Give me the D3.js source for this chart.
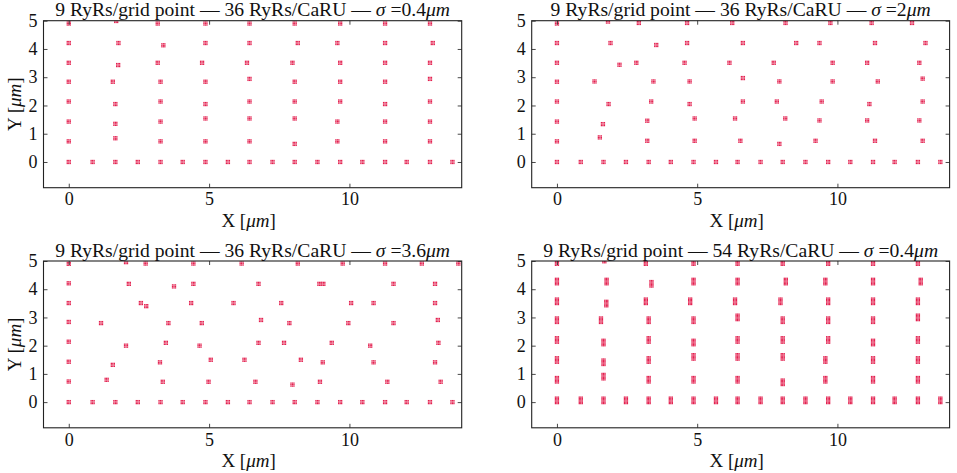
<!DOCTYPE html>
<html><head><meta charset="utf-8">
<script src="https://cdn.jsdelivr.net/npm/d3@7"></script>
<style>
html,body{margin:0;padding:0;background:#fff;}
</style></head><body>
<svg id="chart" width="957" height="473"></svg>
<script>
// ---------------- data ----------------
const xTicks = [0, 5, 10];
const yTicks = [0, 1, 2, 3, 4, 5];
const xDomain = [-0.9, 14.0];
const yDomain = [-0.91, 5];

const panelTitles = ["0.4", "2", "3.6", "0.4"];
const ryrsPerCaRU = ["36", "36", "36", "54"];

// fixed bottom row (y = 0) and fixed left column (x = 0)
const bottomRowX = [0, 0.85, 1.66, 2.46, 3.27, 4.06, 4.87, 5.67, 6.44, 7.26, 8.05, 8.86, 9.67, 10.46, 11.27, 12.04, 12.87, 13.67];
const leftColumnY = [0.73, 1.43, 2.14, 2.84, 3.51, 4.21, 4.90];

// jittered CaRU positions [x, y] per panel
const panel1Points = [
  [1.69,4.99],[1.77,4.21],[1.76,3.43],[1.57,2.84],[1.66,2.05],[1.66,1.35],[1.66,0.84],
  [3.17,4.90],[3.37,4.13],[3.17,3.51],[3.27,2.84],[3.27,2.14],[3.27,1.43],[3.27,0.73],
  [4.87,4.90],[4.87,4.21],[4.75,3.51],[4.87,2.84],[4.87,2.05],[4.87,1.54],[4.87,0.73],
  [6.44,4.90],[6.44,4.21],[6.35,3.51],[6.44,2.94],[6.44,2.14],[6.44,1.54],[6.44,0.73],
  [8.05,4.90],[8.16,4.21],[7.97,3.51],[8.05,2.84],[8.05,2.14],[8.05,1.54],[8.05,0.64],
  [9.67,4.90],[9.57,4.21],[9.67,3.51],[9.67,2.84],[9.67,2.14],[9.57,1.43],[9.57,0.73],
  [11.27,4.90],[11.27,4.21],[11.27,3.51],[11.27,2.84],[11.27,2.05],[11.27,1.43],[11.27,0.73],
  [12.87,4.90],[12.97,4.21],[12.87,3.51],[12.87,2.94],[12.87,2.14],[12.87,1.43],[12.87,0.73]
];
const panel2Points = [
  [1.82,4.97],[2.92,4.92],[4.64,4.92],[6.25,4.92],[8.15,4.92],[9.75,4.92],[11.22,4.92],[12.66,4.92],
  [1.91,4.21],[3.54,4.14],[4.64,4.21],[6.63,4.21],[8.53,4.21],[9.36,4.21],[11.34,4.21],[13.14,4.21],
  [2.23,3.44],[2.83,3.51],[4.55,3.51],[6.15,3.51],[7.73,3.51],[9.83,3.51],[11.06,3.51],[12.92,3.51],
  [1.34,2.85],[3.44,2.85],[4.73,2.85],[6.63,2.97],[7.93,2.85],[9.83,2.85],[11.44,2.85],[13.04,2.95],
  [1.84,2.05],[3.36,2.14],[4.73,2.05],[6.63,2.14],[7.84,2.14],[9.44,2.14],[11.14,2.05],[13.04,2.14],
  [1.64,1.34],[3.22,1.46],[4.91,1.54],[6.35,1.54],[8.14,1.54],[9.36,1.47],[11.06,1.47],[12.92,1.47],
  [1.53,0.87],[3.22,0.75],[4.91,0.75],[6.54,0.75],[7.93,0.64],[9.22,0.75],[11.34,0.75],[13.04,0.75]
];
const panel3Points = [
  [2.04,4.96],[2.74,4.91],[4.44,4.91],[6.16,4.91],[8.16,4.91],[9.76,4.91],[11.27,4.91],[12.58,4.91],[13.88,4.91],
  [2.14,4.19],[3.75,4.10],[4.44,4.19],[6.76,4.19],[8.93,4.19],[9.07,4.19],[11.57,4.19],[13.05,4.19],
  [2.57,3.51],[2.76,3.40],[4.36,3.51],[5.87,3.51],[7.57,3.51],[10.06,3.51],[10.86,3.51],[13.05,3.51],
  [1.15,2.80],[3.55,2.80],[4.74,2.80],[6.85,2.91],[7.86,2.80],[9.96,2.80],[11.57,2.80],[13.15,2.91],
  [2.04,2.00],[3.46,2.10],[4.66,2.00],[6.76,2.10],[7.67,2.10],[9.37,2.10],[10.74,2.00],[13.17,2.10],
  [1.57,1.32],[3.25,1.41],[5.06,1.50],[6.26,1.50],[8.27,1.50],[9.05,1.41],[10.86,1.41],[13.05,1.41],
  [1.35,0.79],[3.35,0.72],[4.98,0.72],[6.65,0.72],[7.97,0.62],[8.95,0.72],[11.35,0.72],[13.25,0.72]
];
const panel4Points = [
  [1.69,4.99],[1.77,4.21],[1.76,3.43],[1.57,2.84],[1.66,2.05],[1.66,1.35],[1.66,0.84],
  [3.17,4.90],[3.37,4.13],[3.17,3.51],[3.27,2.84],[3.27,2.14],[3.27,1.43],[3.27,0.73],
  [4.87,4.90],[4.87,4.21],[4.75,3.51],[4.87,2.84],[4.87,2.05],[4.87,1.54],[4.87,0.73],
  [6.44,4.90],[6.44,4.21],[6.35,3.51],[6.44,2.94],[6.44,2.14],[6.44,1.54],[6.44,0.73],
  [8.05,4.90],[8.16,4.21],[7.97,3.51],[8.05,2.84],[8.05,2.14],[8.05,1.54],[8.05,0.64],
  [9.67,4.90],[9.57,4.21],[9.67,3.51],[9.67,2.84],[9.67,2.14],[9.57,1.43],[9.57,0.73],
  [11.27,4.90],[11.27,4.21],[11.27,3.51],[11.27,2.84],[11.27,2.05],[11.27,1.43],[11.27,0.73],
  [12.87,4.90],[12.97,4.21],[12.87,3.51],[12.87,2.94],[12.87,2.14],[12.87,1.43],[12.87,0.73]
];

// ---------------- drawing ----------------
const FONT = "'Liberation Serif', 'DejaVu Serif', serif";
const svg = d3.select("#chart");
const panels = [
  {L:43.5, R:461.7, T:20.7, B:187.7, pts:panel1Points, tall:false, ylab:true},
  {L:531.7,R:949.6, T:20.7, B:187.7, pts:panel2Points, tall:false, ylab:false},
  {L:43.5, R:461.7, T:261,  B:427.8, pts:panel3Points, tall:false, ylab:true},
  {L:531.7,R:949.6, T:261,  B:427.8, pts:panel4Points, tall:true,  ylab:false}
];
const dotColor = "#e3204f";
const FS = 18;
const titles = [];

panels.forEach((p, i) => {
  const x = d3.scaleLinear().domain(xDomain).range([p.L, p.R]);
  const y = d3.scaleLinear().domain(yDomain).range([p.B, p.T]);
  const g = svg.append("g");

  const clipId = "clip" + i;
  svg.append("clipPath").attr("id", clipId).append("rect")
    .attr("x", p.L).attr("y", p.T).attr("width", p.R - p.L).attr("height", p.B - p.T);

  const all = [];
  bottomRowX.forEach(v => all.push([v, 0]));
  leftColumnY.forEach(v => all.push([0, v]));
  p.pts.forEach(d => all.push(d));

  const ox = [-1.5, 0, 1.5];
  const oy = p.tall ? [-3.6, -2.3, -1.0, 0.3, 1.6, 2.9].map(v => v - 1.4) : [-1.5, 0, 1.5];
  const ds = 1.3;
  const pg = g.append("g").attr("clip-path", `url(#${clipId})`);
  const cl = pg.selectAll("g.c").data(all).join("g")
    .attr("transform", d => `translate(${x(d[0])},${y(d[1])})`);
  ox.forEach(dx => oy.forEach(dy => {
    cl.append("rect").attr("x", dx - ds/2).attr("y", dy - ds/2)
      .attr("width", ds).attr("height", ds).attr("fill", dotColor);
  }));

  const ax = g.append("g").attr("transform", `translate(0,${p.B})`)
    .call(d3.axisBottom(x).tickValues(xTicks).tickSizeInner(-4).tickSizeOuter(0).tickPadding(5).tickFormat(d3.format("d")));
  const axT = g.append("g").attr("transform", `translate(0,${p.T})`)
    .call(d3.axisTop(x).tickValues(xTicks).tickSizeInner(-4).tickSizeOuter(0).tickFormat(""));
  const ay = g.append("g").attr("transform", `translate(${p.L},0)`)
    .call(d3.axisLeft(y).tickValues(yTicks).tickSizeInner(-4).tickSizeOuter(0).tickPadding(6).tickFormat(d3.format("d")));
  const ayR = g.append("g").attr("transform", `translate(${p.R},0)`)
    .call(d3.axisRight(y).tickValues(yTicks).tickSizeInner(-4).tickSizeOuter(0).tickFormat(""));
  [ax, axT, ay, ayR].forEach(a => {
    a.attr("font-family", FONT).attr("font-size", FS);
    a.select(".domain").remove();
    a.selectAll(".tick line").attr("stroke", "#333").attr("stroke-width", 0.9);
    a.selectAll(".tick text").attr("fill", "#111");
  });

  g.append("rect").attr("x", p.L).attr("y", p.T).attr("width", p.R - p.L).attr("height", p.B - p.T)
    .attr("fill", "none").attr("stroke", "#222").attr("stroke-width", 1.1);

  const cx = (p.L + p.R) / 2;
  const t = g.append("text").attr("x", cx).attr("y", p.T - 4.5).attr("text-anchor", "middle")
    .attr("font-family", FONT).attr("font-size", FS).attr("fill", "#111");
  t.append("tspan").text(`9 RyRs/grid point — ${ryrsPerCaRU[i]} RyRs/CaRU — `);
  t.append("tspan").attr("font-style", "italic").text("σ");
  t.append("tspan").text(` =${panelTitles[i]}`);
  t.append("tspan").attr("font-style", "italic").text("μm");
  titles.push(t);

  const xl = g.append("text").attr("x", cx - 4).attr("y", p.B + 39).attr("text-anchor", "middle")
    .attr("font-family", FONT).attr("font-size", FS + 1).attr("fill", "#111");
  xl.append("tspan").text("X [");
  xl.append("tspan").attr("font-style", "italic").text("μm");
  xl.append("tspan").text("]");

  if (p.ylab) {
    const cy = (p.T + p.B) / 2;
    const yl = g.append("text").attr("transform", `translate(${p.L - 23},${cy}) rotate(-90)`)
      .attr("text-anchor", "middle").attr("font-family", FONT).attr("font-size", FS + 1).attr("fill", "#111");
    yl.append("tspan").text("Y [");
    yl.append("tspan").attr("font-style", "italic").text("μm");
    yl.append("tspan").text("]");
  }
});

// scale titles so the first one spans the reference width (~395px)
const w0 = titles[0].node().getComputedTextLength();
const fsTitle = FS * 395 / w0;
titles.forEach(t => t.attr("font-size", fsTitle));
</script>
</body></html>
